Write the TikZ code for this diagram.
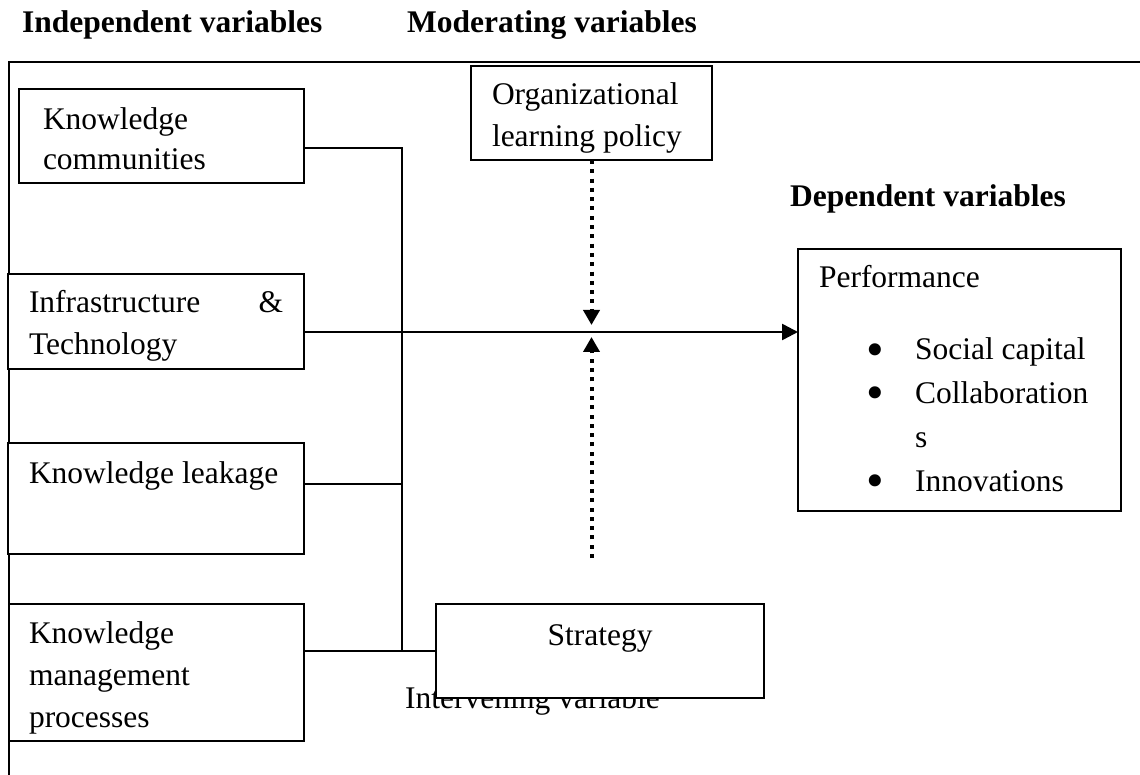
\documentclass[tikz,border=0pt]{standalone}
\usepackage{fontspec}
\setmainfont{Liberation Serif}
\usetikzlibrary{arrows.meta}

\newcommand{\bigbullet}{\smash{\raisebox{-6pt}{\scalebox{1.6}{\textbullet}}}}

\begin{document}
\begin{tikzpicture}[x=1pt, y=-1pt,
    font=\fontsize{31.5}{42}\selectfont,
    varbox/.style={draw, line width=2pt, fill=white, anchor=north west, outer sep=0pt, inner ysep=0pt, align=flush left},
    heading/.style={anchor=base west, inner sep=0pt, font=\fontsize{31.5}{42}\selectfont\bfseries},
    link/.style={line width=2pt},
    arrow/.style={line width=2.5pt, -{Triangle[length=16pt,width=16pt]}},
    modarrow/.style={line width=4pt, dash pattern=on 4pt off 5.3pt, -{Triangle[length=15pt,width=16pt]}}
  ]
  \useasboundingbox (0,0) rectangle (1140,775);

  % outer frame
  \draw[line width=2pt] (1140,62) -- (9,62) -- (9,775);

  % headings
  \node[heading] (indep) at (22,33) {Independent variables};
  \node[heading] (moder) at (407,33) {Moderating variables};
  \node[heading] (depen) at (790,207) {Dependent variables};

  % independent variables
  \node[varbox, inner xsep=24pt, text width=237pt, text height=41pt, text depth=53pt,
        font=\fontsize{31.5}{40}\selectfont] (kc) at (19,89) {Knowledge\\communities};
  \node[varbox, inner xsep=21pt, text width=254pt, text height=39pt, text depth=56pt] (it) at (8,274) {Infrastructure\hfill\&\\Technology};
  \node[varbox, inner xsep=21pt, text width=254pt, text height=40pt, text depth=71pt] (kl) at (8,443) {Knowledge leakage};
  \node[varbox, inner xsep=20pt, text width=255pt, text height=39pt, text depth=98pt] (kmp) at (9,604) {Knowledge\\management\\processes};

  % moderating variable
  \node[varbox, inner xsep=21pt, text width=199pt, text height=39pt, text depth=55pt] (org) at (471,66) {Organizational\\learning policy};

  % dependent variables
  \node[varbox, inner xsep=21pt, text width=281pt, text height=39pt, text depth=223pt,
        font=\fontsize{31.5}{44}\selectfont] (perf) at (798,249) {Performance\\[28pt]
    \makebox[96pt][l]{\hspace*{47pt}\bigbullet}Social capital\\
    \makebox[96pt][l]{\hspace*{47pt}\bigbullet}Collaboration\\
    \hspace*{96pt}s\\
    \makebox[96pt][l]{\hspace*{47pt}\bigbullet}Innovations};

  % intervening variable
  \node[anchor=base west, inner sep=0pt] (interv) at (405,708) {Intervening variable};
  \node[varbox, align=center, inner xsep=20pt, text width=288pt, text height=41pt, text depth=53pt] (strat) at (436,604) {Strategy};

  \coordinate (bustop) at (402,148);
  \coordinate (kljoin) at (402,484);
  \coordinate (cross) at (591.5,332);
  \coordinate (modlow) at (591.5,558);

  \draw[link] (kc.east |- bustop) -- (bustop) -- (bustop |- strat.west);
  \draw[link] (kl.east |- kljoin) -- (kljoin);
  \draw[link] (kmp.east |- strat.west) -- (strat.west);
  \draw[arrow] (it.east |- cross) -- (perf.west |- cross);

  \draw[modarrow, shorten >=7pt] (org.south) -- (org.south |- cross);
  \draw[modarrow, shorten >=5pt] (modlow) -- (modlow |- cross);
\end{tikzpicture}
\end{document}
